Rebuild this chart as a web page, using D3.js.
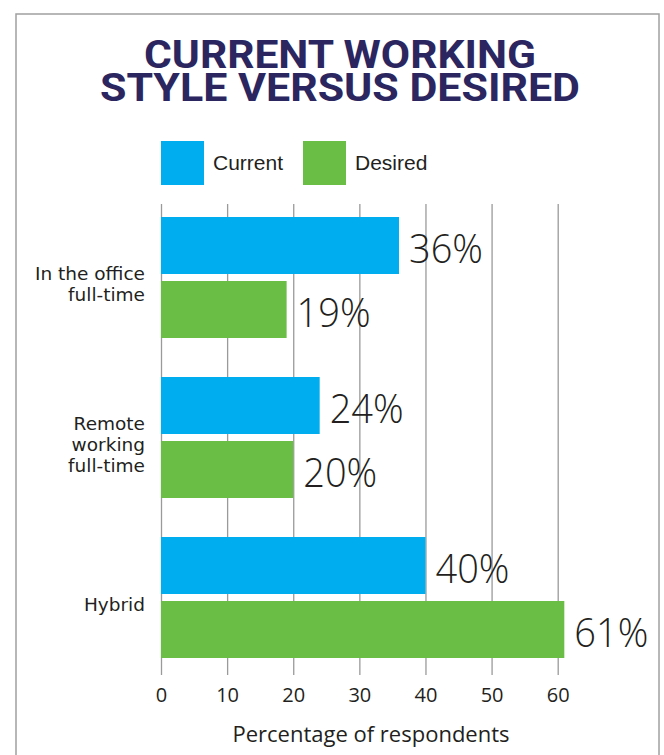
<!DOCTYPE html>
<html>
<head>
<meta charset="utf-8">
<script src="https://cdn.jsdelivr.net/npm/d3@7"></script>
<style>
  html, body { margin: 0; padding: 0; background: #fff; }
  svg { display: block; }
</style>
</head>
<body>
<svg id="chart" width="664" height="755"></svg>
<script>
// Survey results: current vs desired working style (percent of respondents)
const titleLines = ["CURRENT WORKING", "STYLE VERSUS DESIRED"];
const categories = ["In the office\nfull-time", "Remote\nworking\nfull-time", "Hybrid"];
const seriesNames = ["Current", "Desired"];
const current = [36, 24, 40];
const desired = [19, 20, 61];
const xTicks = [0, 10, 20, 30, 40, 50, 60];
const xTitle = "Percentage of respondents";

const colors = { Current: "#00aeef", Desired: "#6abd45" };
const textColor = "#231f20";
const titleColor = "#2b2660";
const gridColor = "#9a9a9a";

const svg = d3.select("#chart");

// outer frame (open at the bottom edge of the page)
svg.append("rect")
  .attr("x", 16).attr("y", 14)
  .attr("width", 643).attr("height", 800)
  .attr("fill", "none")
  .attr("stroke", "#a0a0a0")
  .attr("stroke-width", 1.5);

// title: one text element, one tspan per line
const titleWidths = [392, 480];
svg.append("text")
  .attr("text-anchor", "middle")
  .attr("font-family", "Roboto, 'DejaVu Sans', sans-serif")
  .attr("font-weight", "bold")
  .attr("font-size", 39)
  .attr("fill", titleColor)
  .selectAll("tspan")
  .data(titleLines)
  .join("tspan")
  .attr("x", 340)
  .attr("y", (d, i) => 68 + i * 33)
  .attr("textLength", (d, i) => titleWidths[i])
  .attr("lengthAdjust", "spacingAndGlyphs")
  .text(d => d);

// scales
const x = d3.scaleLinear().domain([0, 60]).range([161, 557.7]);
const y = d3.scaleBand().domain(categories).range([217, 658]).paddingInner(39 / 160).paddingOuter(0);
const ySub = d3.scaleBand().domain(seriesNames).range([0, y.bandwidth()]).paddingInner(7 / 64).paddingOuter(0);

// legend
const legend = svg.append("g").attr("transform", "translate(161,141)");
const legendItem = legend.selectAll("g")
  .data(seriesNames)
  .join("g")
  .attr("transform", (d, i) => `translate(${i * 142},0)`);
legendItem.append("rect")
  .attr("width", 43).attr("height", 44)
  .attr("fill", d => colors[d]);
legendItem.append("text")
  .attr("x", 52).attr("y", 29)
  .attr("font-family", "'Liberation Sans', Arial, sans-serif")
  .attr("font-size", 21)
  .attr("fill", textColor)
  .text(d => d);

// vertical gridlines + tick labels
const gridTop = 204, gridBottom = 675;
const axis = svg.append("g")
  .attr("transform", `translate(0,${gridBottom})`)
  .call(d3.axisBottom(x).tickValues(xTicks).tickSize(-(gridBottom - gridTop)).tickPadding(13));
axis.select(".domain").remove();
axis.selectAll(".tick line").attr("stroke", gridColor).attr("stroke-width", 1.3);
axis.selectAll(".tick text")
  .attr("font-family", "'Open Sans', 'Liberation Sans', sans-serif")
  .attr("font-size", 20)
  .attr("fill", textColor);

// axis title
svg.append("text")
  .attr("x", 371).attr("y", 742)
  .attr("text-anchor", "middle")
  .attr("font-family", "'Open Sans', 'Liberation Sans', sans-serif")
  .attr("font-size", 22)
  .attr("fill", textColor)
  .text(xTitle);

// bars
const rows = categories.map((c, i) => ({
  category: c,
  values: [
    { series: "Current", value: current[i] },
    { series: "Desired", value: desired[i] }
  ]
}));

const group = svg.append("g").selectAll("g")
  .data(rows)
  .join("g")
  .attr("transform", d => `translate(0,${y(d.category)})`);

group.selectAll("rect")
  .data(d => d.values)
  .join("rect")
  .attr("x", x(0))
  .attr("y", d => ySub(d.series))
  .attr("width", d => x(d.value) - x(0))
  .attr("height", ySub.bandwidth())
  .attr("fill", d => colors[d.series]);

// value labels
const valueSize = 41;
group.selectAll("text.value")
  .data(d => d.values)
  .join("text")
  .attr("class", "value")
  .attr("x", d => x(d.value) + 10)
  .attr("y", d => ySub(d.series) + ySub.bandwidth() / 2 + 17)
  .attr("font-family", "'Open Sans', 'Liberation Sans', sans-serif")
  .attr("font-weight", 300)
  .attr("font-size", valueSize)
  .attr("fill", textColor)
  .attr("textLength", 74)
  .attr("lengthAdjust", "spacingAndGlyphs")
  .text(d => d.value + "%");

// category labels (multi-line, right aligned)
const lineHeight = 21;
group.append("text")
  .attr("text-anchor", "end")
  .attr("font-family", "'DejaVu Sans', Verdana, sans-serif")
  .attr("font-size", 18.5)
  .attr("fill", textColor)
  .each(function(d) {
    const lines = d.category.split("\n");
    const mid = y.bandwidth() / 2 + 6;
    const first = mid - (lines.length - 1) * lineHeight / 2 + 7;
    d3.select(this).selectAll("tspan")
      .data(lines)
      .join("tspan")
      .attr("x", 145)
      .attr("y", (l, i) => first + i * lineHeight)
      .text(l => l);
  });
</script>
</body>
</html>
